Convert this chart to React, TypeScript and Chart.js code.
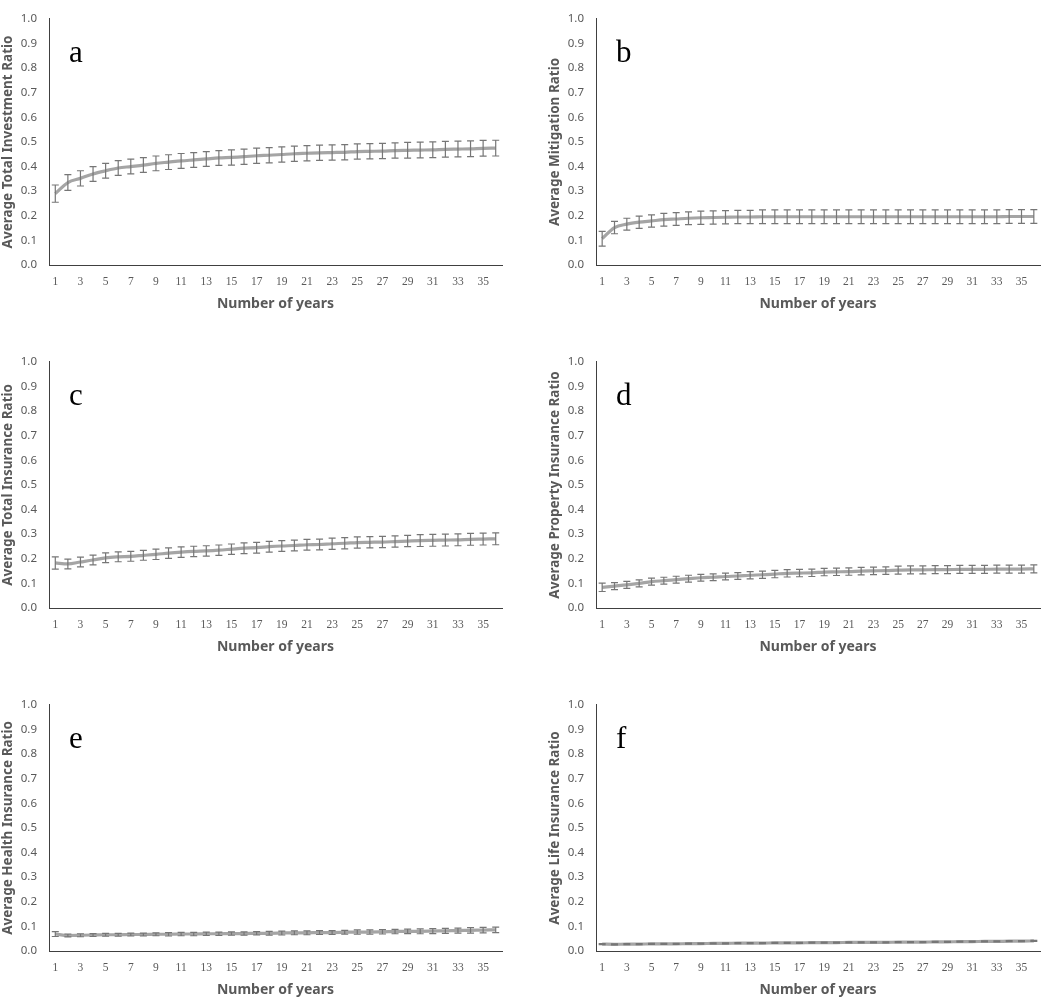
import Chart from "chart.js/auto";
import { useEffect, useRef } from "react";

const years = [
  "1", "2", "3", "4", "5", "6", "7", "8", "9", "10", "11", "12",
  "13", "14", "15", "16", "17", "18", "19", "20", "21", "22", "23", "24",
  "25", "26", "27", "28", "29", "30", "31", "32", "33", "34", "35", "36",
];

const yTicks = [0, 0.1, 0.2, 0.3, 0.4, 0.5, 0.6, 0.7, 0.8, 0.9, 1.0];

// a: total investment
const investMean = [
  0.29, 0.335, 0.352, 0.37, 0.383, 0.394, 0.4, 0.406, 0.413, 0.418, 0.423, 0.427,
  0.431, 0.435, 0.437, 0.44, 0.444, 0.446, 0.449, 0.452, 0.454, 0.456, 0.457, 0.458,
  0.461, 0.462, 0.463, 0.465, 0.466, 0.467, 0.468, 0.47, 0.471, 0.472, 0.474, 0.475,
];
const investErr = [
  0.035, 0.032, 0.031, 0.03, 0.03, 0.03, 0.03, 0.03, 0.03, 0.03, 0.03, 0.03,
  0.03, 0.03, 0.031, 0.031, 0.031, 0.031, 0.031, 0.031, 0.031, 0.031, 0.031, 0.031,
  0.031, 0.031, 0.031, 0.031, 0.032, 0.032, 0.032, 0.032, 0.032, 0.032, 0.032, 0.032,
];

// b: mitigation
const mitigMean = [
  0.107, 0.152, 0.166, 0.174, 0.179, 0.184, 0.187, 0.19, 0.192, 0.193, 0.194, 0.195,
  0.195, 0.196, 0.196, 0.196, 0.196, 0.196, 0.196, 0.196, 0.196, 0.196, 0.196, 0.196,
  0.196, 0.196, 0.196, 0.196, 0.196, 0.196, 0.196, 0.196, 0.196, 0.197, 0.197, 0.197,
];
const mitigErr = [
  0.03, 0.025, 0.024, 0.025, 0.025, 0.026, 0.026, 0.026, 0.027, 0.027, 0.027, 0.027,
  0.027, 0.028, 0.028, 0.028, 0.028, 0.028, 0.028, 0.028, 0.028, 0.028, 0.028, 0.028,
  0.028, 0.028, 0.028, 0.028, 0.028, 0.028, 0.028, 0.028, 0.028, 0.028, 0.028, 0.028,
];

// c: total insurance
const insurMean = [
  0.183, 0.179, 0.187, 0.195, 0.204, 0.208, 0.21, 0.214, 0.218, 0.223, 0.227, 0.23,
  0.232, 0.235, 0.239, 0.243, 0.245, 0.249, 0.252, 0.254, 0.257, 0.258, 0.261, 0.263,
  0.266, 0.267, 0.268, 0.27, 0.272, 0.274, 0.275, 0.276, 0.277, 0.279, 0.28, 0.281,
];
const insurErr = [
  0.025, 0.02, 0.02, 0.02, 0.02, 0.02, 0.02, 0.02, 0.021, 0.021, 0.021, 0.021,
  0.021, 0.021, 0.021, 0.022, 0.022, 0.022, 0.022, 0.022, 0.022, 0.022, 0.023, 0.023,
  0.023, 0.023, 0.023, 0.023, 0.023, 0.024, 0.024, 0.024, 0.024, 0.024, 0.024, 0.024,
];

// d: property insurance
const propMean = [
  0.084, 0.089, 0.094, 0.1, 0.107, 0.111, 0.115, 0.119, 0.123, 0.125, 0.128, 0.13,
  0.133, 0.135, 0.138, 0.141, 0.142, 0.143, 0.146, 0.147, 0.148, 0.15, 0.151, 0.152,
  0.154, 0.155, 0.155, 0.156, 0.156, 0.157, 0.157, 0.157, 0.158, 0.158, 0.158, 0.159,
];
const propErr = [
  0.017, 0.014, 0.014, 0.014, 0.014, 0.014, 0.014, 0.014, 0.014, 0.014, 0.014, 0.014,
  0.015, 0.015, 0.015, 0.015, 0.015, 0.015, 0.015, 0.015, 0.015, 0.015, 0.015, 0.015,
  0.016, 0.016, 0.016, 0.016, 0.016, 0.016, 0.016, 0.016, 0.016, 0.016, 0.016, 0.016,
];

// e: health insurance
const healthMean = [
  0.069, 0.063, 0.064, 0.065, 0.066, 0.066, 0.067, 0.067, 0.068, 0.068, 0.069, 0.069,
  0.07, 0.07, 0.071, 0.071, 0.072, 0.072, 0.073, 0.074, 0.074, 0.075, 0.075, 0.076,
  0.077, 0.077, 0.078, 0.079, 0.08, 0.08, 0.081, 0.082, 0.083, 0.084, 0.085, 0.086,
];
const healthErr = [
  0.01, 0.006, 0.006, 0.006, 0.006, 0.006, 0.006, 0.006, 0.006, 0.007, 0.007, 0.007,
  0.007, 0.007, 0.007, 0.007, 0.007, 0.008, 0.008, 0.008, 0.008, 0.008, 0.008, 0.008,
  0.009, 0.009, 0.009, 0.009, 0.009, 0.01, 0.01, 0.01, 0.01, 0.011, 0.011, 0.011,
];

// f: life insurance
const lifeMean = [
  0.028, 0.027, 0.028, 0.028, 0.029, 0.029, 0.029, 0.03, 0.03, 0.031, 0.031, 0.032,
  0.032, 0.032, 0.033, 0.033, 0.033, 0.034, 0.034, 0.034, 0.035, 0.035, 0.035, 0.035,
  0.036, 0.036, 0.036, 0.037, 0.037, 0.038, 0.038, 0.039, 0.039, 0.04, 0.04, 0.041,
];
const lifeErr = [
  0.002, 0.002, 0.002, 0.002, 0.002, 0.002, 0.002, 0.002, 0.002, 0.002, 0.002, 0.002,
  0.002, 0.002, 0.002, 0.002, 0.002, 0.002, 0.002, 0.002, 0.002, 0.002, 0.002, 0.002,
  0.002, 0.002, 0.002, 0.002, 0.002, 0.002, 0.002, 0.002, 0.002, 0.002, 0.002, 0.002,
];

const TEXT_GRAY = "#595959";
const LINE_GRAY = "#a5a5a5";
const BAR_GRAY = "#767676";

// draws error bars and the panel letter
const extrasPlugin = {
  id: "extras",
  afterDatasetsDraw(chart: any, _args: any, opts: any) {
    const { ctx, chartArea, scales } = chart;
    const xs = scales.x;
    const ys = scales.y;
    const mean: number[] = opts.mean;
    const err: number[] = opts.err;
    ctx.save();
    ctx.strokeStyle = BAR_GRAY;
    ctx.lineWidth = 1.2;
    mean.forEach((m, i) => {
      const x = xs.getPixelForValue(i);
      const yTop = ys.getPixelForValue(m + err[i]);
      const yBot = ys.getPixelForValue(m - err[i]);
      ctx.beginPath();
      ctx.moveTo(x, yTop);
      ctx.lineTo(x, yBot);
      ctx.moveTo(x - 3.5, yTop);
      ctx.lineTo(x + 3.5, yTop);
      ctx.moveTo(x - 3.5, yBot);
      ctx.lineTo(x + 3.5, yBot);
      ctx.stroke();
    });
    ctx.fillStyle = "#000";
    ctx.font = "31px 'Liberation Serif', serif";
    ctx.textBaseline = "alphabetic";
    ctx.fillText(opts.letter, chartArea.left + 20, chartArea.top + 43);
    ctx.restore();
  },
};

type PanelProps = {
  letter: string;
  title: string;
  mean: number[];
  err: number[];
  left: number;
  top: number;
  width: number;
  padRight: number;
};

function Panel({ letter, title, mean, err, left, top, width, padRight }: PanelProps) {
  const canvasRef = useRef<HTMLCanvasElement>(null);

  useEffect(() => {
    if (!canvasRef.current) return;
    const chart = new Chart(canvasRef.current, {
      type: "line",
      data: {
        labels: years,
        datasets: [
          {
            data: mean,
            borderColor: LINE_GRAY,
            borderWidth: 3.2,
            pointRadius: 0,
            cubicInterpolationMode: "monotone",
            fill: false,
          },
        ],
      },
      options: {
        animation: false,
        responsive: false,
        layout: { padding: { top: 7, right: padRight, left: 0, bottom: 0 } },
        plugins: {
          legend: { display: false },
          tooltip: { enabled: false },
          extras: { mean, err, letter },
        } as any,
        scales: {
          x: {
            type: "category",
            offset: true,
            grid: { display: false, drawTicks: false },
            border: { display: true, color: "#404040", width: 1 },
            afterFit: (s: any) => {
              s.height = 50;
            },
            ticks: {
              autoSkip: false,
              maxRotation: 0,
              padding: 10,
              color: TEXT_GRAY,
              font: { family: "'Liberation Serif', serif", size: 11.5 },
              callback: (_v: any, i: number) => (i % 2 === 0 ? years[i] : ""),
            },
            title: {
              display: true,
              text: "Number of years",
              color: TEXT_GRAY,
              font: { family: "'Noto Sans', sans-serif", size: 14, weight: "bold" },
              padding: { top: 0, bottom: 3 },
            },
          },
          y: {
            min: 0,
            max: 1,
            grid: { display: false, drawTicks: false },
            border: { display: true, color: "#404040", width: 1 },
            afterFit: (s: any) => {
              s.width = 49;
            },
            afterBuildTicks: (s: any) => {
              s.ticks = yTicks.map((v) => ({ value: v }));
            },
            ticks: {
              padding: 12,
              color: TEXT_GRAY,
              font: { family: "'Noto Sans', sans-serif", size: 11.5 },
              callback: (v: any) => Number(v).toFixed(1),
            },
            title: {
              display: true,
              text: title,
              color: TEXT_GRAY,
              font: { family: "'Noto Sans', sans-serif", size: 13.5, weight: "bold" },
              padding: { top: 0, bottom: 0 },
            },
          },
        },
      },
      plugins: [extrasPlugin],
    });
    return () => chart.destroy();
  }, [letter, title, mean, err, padRight]);

  return (
    <div style={{ position: "absolute", left, top, width, height: 315 }}>
      <canvas ref={canvasRef} width={width} height={315} style={{ width, height: 315 }} />
    </div>
  );
}

export default function App() {
  return (
    <div style={{ position: "absolute", left: 0, top: 0, width: 1052, height: 1001, background: "#fff" }}>
      <Panel letter="a" title="Average Total Investment Ratio" mean={investMean} err={investErr} left={0} top={0} width={520} padRight={18} />
      <Panel letter="b" title="Average Mitigation Ratio" mean={mitigMean} err={mitigErr} left={547} top={0} width={505} padRight={12} />
      <Panel letter="c" title="Average Total Insurance Ratio" mean={insurMean} err={insurErr} left={0} top={343} width={520} padRight={18} />
      <Panel letter="d" title="Average Property Insurance Ratio" mean={propMean} err={propErr} left={547} top={343} width={505} padRight={12} />
      <Panel letter="e" title="Average Health Insurance Ratio" mean={healthMean} err={healthErr} left={0} top={686} width={520} padRight={18} />
      <Panel letter="f" title="Average Life Insurance Ratio" mean={lifeMean} err={lifeErr} left={547} top={686} width={505} padRight={12} />
    </div>
  );
}
